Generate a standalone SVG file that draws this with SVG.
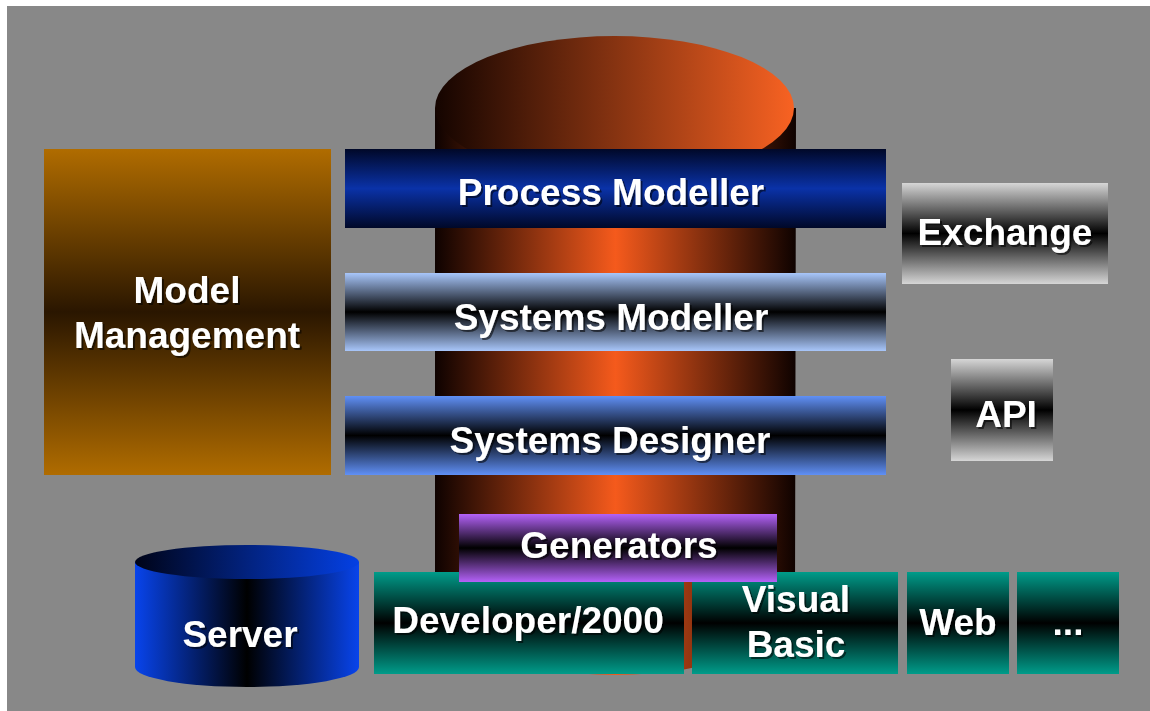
<svg xmlns="http://www.w3.org/2000/svg" width="1150" height="711" viewBox="0 0 1150 711">
  <defs>
    <!-- vertical band gradients: light edge, dark centre -->
    <linearGradient id="gProcess" x1="0" y1="0" x2="0" y2="1">
      <stop offset="0" stop-color="#000828"/>
      <stop offset="0.5" stop-color="#0a32a8"/>
      <stop offset="1" stop-color="#000828"/>
    </linearGradient>
    <linearGradient id="gSysMod" x1="0" y1="0" x2="0" y2="1">
      <stop offset="0" stop-color="#a8c6fa"/>
      <stop offset="0.5" stop-color="#000000"/>
      <stop offset="1" stop-color="#a8c6fa"/>
    </linearGradient>
    <linearGradient id="gSysDes" x1="0" y1="0" x2="0" y2="1">
      <stop offset="0" stop-color="#6090f6"/>
      <stop offset="0.5" stop-color="#000000"/>
      <stop offset="1" stop-color="#6090f6"/>
    </linearGradient>
    <linearGradient id="gModel" x1="0" y1="0" x2="0" y2="1">
      <stop offset="0" stop-color="#b06c00"/>
      <stop offset="0.5" stop-color="#2a1600"/>
      <stop offset="1" stop-color="#b06c00"/>
    </linearGradient>
    <linearGradient id="gGrey" x1="0" y1="0" x2="0" y2="1">
      <stop offset="0" stop-color="#d6d6d6"/>
      <stop offset="0.5" stop-color="#000000"/>
      <stop offset="1" stop-color="#d6d6d6"/>
    </linearGradient>
    <linearGradient id="gPurple" x1="0" y1="0" x2="0" y2="1">
      <stop offset="0" stop-color="#b462f8"/>
      <stop offset="0.5" stop-color="#000000"/>
      <stop offset="1" stop-color="#b462f8"/>
    </linearGradient>
    <linearGradient id="gTeal" x1="0" y1="0" x2="0" y2="1">
      <stop offset="0" stop-color="#009c8a"/>
      <stop offset="0.5" stop-color="#000000"/>
      <stop offset="1" stop-color="#009c8a"/>
    </linearGradient>
    <!-- repository cylinder -->
    <linearGradient id="gRepoBody" x1="435" y1="0" x2="796" y2="0" gradientUnits="userSpaceOnUse">
      <stop offset="0" stop-color="#0e0200"/>
      <stop offset="0.5" stop-color="#f55a1c"/>
      <stop offset="1" stop-color="#0e0200"/>
    </linearGradient>
    <linearGradient id="gRepoTop" x1="0" y1="0" x2="1" y2="0">
      <stop offset="0" stop-color="#140400"/>
      <stop offset="1" stop-color="#f86222"/>
    </linearGradient>
    <!-- server cylinder -->
    <linearGradient id="gSrvBody" x1="135" y1="0" x2="359" y2="0" gradientUnits="userSpaceOnUse">
      <stop offset="0" stop-color="#0844ec"/>
      <stop offset="0.5" stop-color="#000000"/>
      <stop offset="1" stop-color="#0844ec"/>
    </linearGradient>
    <linearGradient id="gSrvTop" x1="0" y1="0" x2="1" y2="0">
      <stop offset="0" stop-color="#000418"/>
      <stop offset="1" stop-color="#0440e4"/>
    </linearGradient>
    <filter id="shadow" x="-10%" y="-20%" width="120%" height="150%">
      <feDropShadow dx="2" dy="2" stdDeviation="0.6" flood-color="#000000" flood-opacity="0.55"/>
    </filter>
  </defs>
  <style>
    .lbl { font-family: "Liberation Sans", Arial, sans-serif; font-weight: bold; font-size: 37px; fill: #ffffff; text-anchor: middle; filter: url(#shadow); }
  </style>

  <!-- canvas -->
  <rect x="0" y="0" width="1150" height="711" fill="#ffffff"/>
  <rect x="7" y="6" width="1143" height="705" fill="#888888"/>

  <!-- central repository -->
  <g id="repository">
    <path d="M435,108 L435,603 A180,72 0 0 0 795,603 L796,108 Z" fill="url(#gRepoBody)"/>
    <ellipse cx="614.5" cy="108" rx="179.5" ry="72" fill="url(#gRepoTop)"/>
  </g>

  <g id="connectors"/>

  <g id="model-management">
    <rect x="44" y="149" width="287" height="326" fill="url(#gModel)"/>
    <text class="lbl" x="187" y="303">Model</text>
    <text class="lbl" x="187" y="348">Management</text>
  </g>

  <g id="process-modeller">
    <rect x="345" y="149" width="541" height="79" fill="url(#gProcess)"/>
    <text class="lbl" x="611" y="205">Process Modeller</text>
  </g>

  <g id="systems-modeller">
    <rect x="345" y="273" width="541" height="78" fill="url(#gSysMod)"/>
    <text class="lbl" x="611" y="330">Systems Modeller</text>
  </g>

  <g id="systems-designer">
    <rect x="345" y="396" width="541" height="79" fill="url(#gSysDes)"/>
    <text class="lbl" x="610" y="453">Systems Designer</text>
  </g>

  <g id="exchange">
    <rect x="902" y="183" width="206" height="101" fill="url(#gGrey)"/>
    <text class="lbl" x="1005" y="245">Exchange</text>
  </g>

  <g id="api">
    <rect x="951" y="359" width="102" height="102" fill="url(#gGrey)"/>
    <text class="lbl" x="1006" y="427">API</text>
  </g>

  <g id="server">
    <path d="M135,562 L135,667 A112,20 0 0 0 359,667 L359,562 Z" fill="url(#gSrvBody)"/>
    <ellipse cx="247" cy="562" rx="112" ry="17" fill="url(#gSrvTop)"/>
    <text class="lbl" x="240" y="647">Server</text>
  </g>

  <g id="developer-2000">
    <rect x="374" y="572" width="310" height="102" fill="url(#gTeal)"/>
    <text class="lbl" x="528" y="633">Developer/2000</text>
  </g>

  <g id="visual-basic">
    <rect x="692" y="572" width="206" height="102" fill="url(#gTeal)"/>
    <text class="lbl" x="796" y="612">Visual</text>
    <text class="lbl" x="796" y="657">Basic</text>
  </g>

  <g id="web">
    <rect x="907" y="572" width="102" height="102" fill="url(#gTeal)"/>
    <text class="lbl" x="958" y="635">Web</text>
  </g>

  <g id="more">
    <rect x="1017" y="572" width="102" height="102" fill="url(#gTeal)"/>
    <text class="lbl" x="1068" y="635">...</text>
  </g>

  <g id="generators">
    <rect x="459" y="514" width="318" height="68" fill="url(#gPurple)"/>
    <text class="lbl" x="619" y="558">Generators</text>
  </g>
</svg>
